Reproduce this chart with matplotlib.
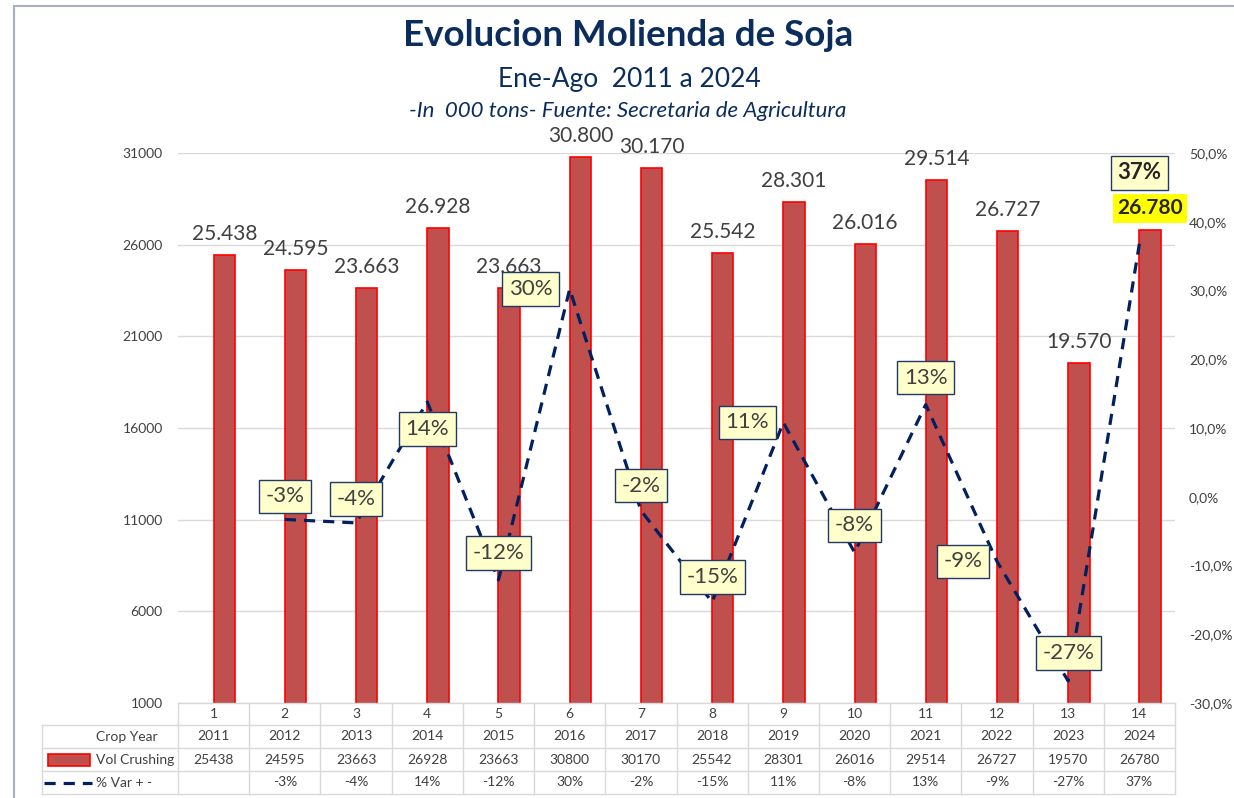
import matplotlib.pyplot as plt
from matplotlib.lines import Line2D
from matplotlib.patches import Rectangle
from matplotlib.ticker import FuncFormatter

plt.rcParams['font.family'] = ['Lato', 'DejaVu Sans']

# datos
idx = list(range(1, 15))
years = [2011, 2012, 2013, 2014, 2015, 2016, 2017, 2018, 2019, 2020, 2021, 2022, 2023, 2024]
vol = [25438, 24595, 23663, 26928, 23663, 30800, 30170, 25542, 28301, 26016, 29514, 26727, 19570, 26780]
var_pct = [-3.3, -3.8, 13.8, -12.1, 30.2, -2.0, -15.3, 10.8, -8.1, 13.4, -9.4, -26.8, 36.8]
var_lbl = ['-3%', '-4%', '14%', '-12%', '30%', '-2%', '-15%', '11%', '-8%', '13%', '-9%', '-27%', '37%']

# desplazamiento de las etiquetas de % (pixeles)
lbl_off = [(0, 23), (0, 24), (0, -27), (0, 27), (-39, 0), (0, 25), (0, 25),
           (-36, 0), (0, 27), (0, 27), (-34, 0), (0, 28), (0, 71)]

W, H = 1234, 798
navy = '#0B2D5E'
txt = '#404040'


def fx(px):
    return px / W


def fy(py):
    return 1 - py / H


def miles(v):
    return f'{v:,}'.replace(',', '.')


fig = plt.figure(figsize=(W / 100, H / 100), dpi=100)

# borde exterior
fig.add_artist(Rectangle((fx(14), fy(800)), fx(1240) - fx(14), fy(6) - fy(800),
                         transform=fig.transFigure, fill=False, ec='#A8AEC4', lw=1.5))

fig.text(fx(628), fy(36), 'Evolucion Molienda de Soja', ha='center', va='center',
         fontsize=26.5, fontweight='bold', color=navy)
fig.text(fx(629), fy(80), 'Ene-Ago  2011 a 2024', ha='center', va='center',
         fontsize=19, color=navy)
fig.text(fx(628), fy(111), '-In  000 tons- Fuente: Secretaria de Agricultura', ha='center',
         va='center', fontsize=16, style='italic', color=navy)

ax_l, ax_r, ax_t, ax_b = 178, 1175, 153, 703
ax = fig.add_axes([fx(ax_l), fy(ax_b), (ax_r - ax_l) / W, (ax_b - ax_t) / H])
ax.bar(idx, vol, width=0.3, align='edge', color='#C0504D', edgecolor='#FF0000',
       linewidth=1.2, zorder=2)
ax.set_xlim(0.5, 14.5)
ax.set_ylim(1000, 31000)
ax.set_yticks(range(1000, 31001, 5000))
ax.set_xticks([])
ax.grid(axis='y', color='#D9D9D9', lw=1)
ax.set_axisbelow(True)
for s in ax.spines.values():
    s.set_visible(False)
ax.tick_params(axis='y', length=0, pad=11, labelsize=10, labelcolor=txt)

for i, v in zip(idx[:-1], vol[:-1]):
    ax.annotate(miles(v), (i + 0.15, v), xytext=(0, 21), textcoords='offset pixels',
                ha='center', va='center', fontsize=15, color=txt)
ax.annotate(miles(vol[-1]), (idx[-1] + 0.15, vol[-1]), xytext=(0, 22),
            textcoords='offset pixels', ha='center', va='center', fontsize=15,
            fontweight='bold', color='#262626',
            bbox=dict(boxstyle='square,pad=0.2', fc='#FFFF00', ec='none'))

ax2 = ax.twinx()
ax2.set_ylim(-0.30, 0.50)
ax2.set_yticks([-0.3, -0.2, -0.1, 0.0, 0.1, 0.2, 0.3, 0.4, 0.5])
ax2.yaxis.set_major_formatter(FuncFormatter(
    lambda v, p: f'{round(v * 100, 1):.1f}%'.replace('.', ',').replace('-0,0', '0,0')))
for s in ax2.spines.values():
    s.set_visible(False)
ax2.tick_params(axis='y', length=0, pad=10, labelsize=10, labelcolor=txt)

pct = [p / 100 for p in var_pct]
ax2.plot(idx[1:], pct, color='#002060', lw=2.3, dashes=(3.5, 2.5), zorder=3)

for k, (i, p, lab) in enumerate(zip(idx[1:], pct, var_lbl)):
    dx, dy = lbl_off[k]
    last = k == len(var_lbl) - 1
    ax2.annotate(lab, (i, p), xytext=(dx, dy), textcoords='offset pixels',
                 ha='center', va='center', fontsize=16,
                 fontweight='bold' if last else 'normal',
                 color='#262626' if last else txt, zorder=5,
                 bbox=dict(boxstyle='square,pad=0.3', fc='#FFFFCC', ec='#1F3864', lw=1))

# tabla de datos
grid_c = '#D9D9D9'
rows = [703, 725, 748, 771, 794]
colw = (ax_r - ax_l) / 14
cols = [ax_l + k * colw for k in range(15)]


def hline(y, x0, x1):
    fig.add_artist(Line2D([fx(x0), fx(x1)], [fy(y), fy(y)], transform=fig.transFigure,
                          color=grid_c, lw=1))


def vline(x, y0, y1):
    fig.add_artist(Line2D([fx(x), fx(x)], [fy(y0), fy(y1)], transform=fig.transFigure,
                          color=grid_c, lw=1))


hline(rows[0], ax_l, ax_r)
for y in rows[1:]:
    hline(y, 42, ax_r)
for x in cols:
    vline(x, rows[0], rows[-1])
vline(42, rows[1], rows[-1])

row_txt = [[str(i) for i in idx], [str(y) for y in years], [str(v) for v in vol],
           [''] + var_lbl]
for r, vals in enumerate(row_txt):
    yc = (rows[r] + rows[r + 1]) / 2
    for k, s in enumerate(vals):
        fig.text(fx(cols[k] + colw / 2), fy(yc), s, ha='center', va='center',
                 fontsize=10, color=txt)

fig.text(fx(96), fy(737), 'Crop Year', ha='left', va='center', fontsize=10, color=txt)
fig.text(fx(96), fy(760), 'Vol Crushing', ha='left', va='center', fontsize=10, color=txt)
fig.text(fx(96), fy(783), '% Var + -', ha='left', va='center', fontsize=10, color=txt)
fig.add_artist(Rectangle((fx(48), fy(766)), fx(90) - fx(48), fy(754) - fy(766),
                         transform=fig.transFigure, fc='#C0504D', ec='#FF0000', lw=1.2))
fig.add_artist(Line2D([fx(44), fx(92)], [fy(783), fy(783)], transform=fig.transFigure,
                      color='#002060', lw=2.3, dashes=(3.5, 2.5)))

fig.savefig('out.png', dpi=100)
